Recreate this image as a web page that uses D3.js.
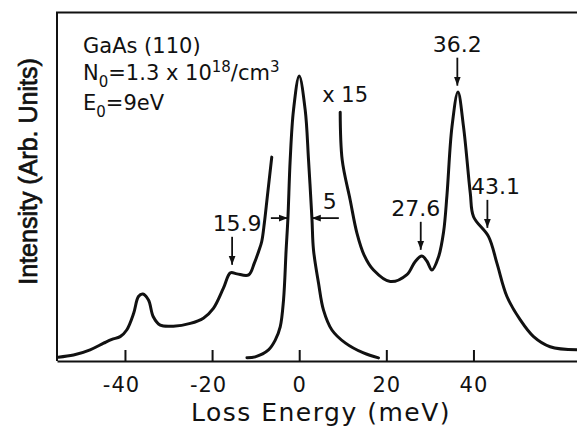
<!DOCTYPE html>
<html>
<head>
<meta charset="utf-8">
<script src="https://cdn.jsdelivr.net/npm/d3@7"></script>
<style>
body{margin:0;background:#fff;}
svg{display:block;}
text{font-family:"DejaVu Sans",sans-serif;fill:#111;}
</style>
</head>
<body>
<svg width="577" height="428"></svg>
<script>
// gain side, shown x15
const gainEnergy = [-55.3,-51.8,-48.0,-44.9,-43.0,-41.1,-39.6,-38.0,-36.9,-35.9,-34.6,-33.5,-31.9,-28.9,-25.0,-22.0,-19.7,-17.4,-15.8,-14.3,-11.6,-10.3,-9.3,-8.6,-8.0,-7.3,-6.3]
const gainIntensity = [1.1,1.7,3.2,5.1,6.2,7.0,8.9,13.7,18.5,19.2,17.5,12.7,10.3,10.0,10.8,12.3,15.1,20.9,25.3,25.0,24.7,28.1,31.5,34.3,39.6,47.4,58.5]
// elastic peak, x1
const elasticEnergy = [-12.0,-10.1,-7.05,-5.5,-4.36,-3.6,-3.0,-2.59,-2.07,-1.31,0,1.38,2.14,2.92,3.28,4.43,5.58,7.51,10.56,14.76,18.2]
const elasticIntensity = [0.95,1.2,3.2,6.0,9.8,17.5,31.9,41.0,57.7,72.0,81.8,72.0,57.7,41.0,31.9,22.4,14.6,8.9,5.2,2.3,0.9]
// loss side, x15
const lossEnergy = [9.41,9.87,11.7,13.25,14.9,17.06,20.9,24.73,26.6,28.17,29.3,30.47,31.99,33.14,33.92,35.06,36.44,37.73,39.27,40.02,43.47,45.4,47.69,50.75,53.8,57.6,63.8]
const lossIntensity = [71.4,57.7,46.2,36.7,30.4,26.1,22.8,24.8,28.5,30.1,28.7,26.1,29.9,37.0,47.6,67.1,77.2,67.1,48.2,41.4,35.7,28.0,18.5,11.8,7.0,4.1,3.2]

const tickValues = [-40,-20,0,20,40]
const tickLabels = ['-40','-20','0','20','40']
const peakLabels = ['15.9','27.6','36.2','43.1']
const peakEnergy = [-15.4,27.9,36.3,43.2]
const peakIntensity = [27.6,31.9,79.0,38.2]
const fwhmLabel = '5'
const fwhmEnergy = [-2.6,2.9]
const fwhmIntensity = 41

const svg = d3.select('svg');
const width = +svg.attr('width')
const height = +svg.attr('height')

const render = () => {
    const margin = {top:12.5,bottom:67,right:-1,left:57}
    const innerWidth = width-margin.left-margin.right;
    const innerHeight = height-margin.top-margin.bottom;

    const xScale = d3.scaleLinear()
                    .domain([-55.6,64])
                    .range([0,innerWidth]);

    const yScale = d3.scaleLinear()
                    .domain([0,100])
                    .range([innerHeight,0]);

    const g = svg.append('g')
                .attr('transform',`translate(${margin.left},${margin.top})`);

    svg.append('defs').append('marker')
        .attr('id','head')
        .attr('viewBox','0 0 10 10')
        .attr('refX',10).attr('refY',5)
        .attr('markerWidth',9).attr('markerHeight',9)
        .attr('markerUnits','userSpaceOnUse')
        .attr('orient','auto')
        .append('path').attr('d','M0,1.2L10,5L0,8.8z').attr('fill','#111');

    // frame: top and left
    g.append('path')
        .attr('d',`M${innerWidth},0H0V${innerHeight}`)
        .attr('fill','none').attr('stroke','#111').attr('stroke-width',2);

    const xAxis = g.append('g')
        .attr('transform',`translate(0,${innerHeight})`)
        .call(d3.axisBottom(xScale)
            .tickValues(tickValues)
            .tickFormat((d,i)=>tickLabels[i])
            .tickSizeInner(-11)
            .tickSizeOuter(0)
            .tickPadding(16));
    xAxis.select('.domain').attr('stroke','#111').attr('stroke-width',2);
    xAxis.selectAll('.tick line').attr('stroke','#111').attr('stroke-width',2);
    xAxis.selectAll('.tick text')
        .attr('font-family','"DejaVu Sans",sans-serif')
        .attr('font-size',21)
        .attr('fill','#111')
        .attr('dx',d=>d<0?-4:0)
        .attr('letter-spacing',1);

    const line = (xs,ys) => d3.line()
        .x((d,i)=>xScale(xs[i]))
        .y((d,i)=>yScale(ys[i]))
        .curve(d3.curveCatmullRom.alpha(0.5))(xs);

    [[gainEnergy,gainIntensity],[elasticEnergy,elasticIntensity],[lossEnergy,lossIntensity]]
        .forEach(([xs,ys]) => {
            g.append('path')
                .attr('d',line(xs,ys))
                .attr('fill','none')
                .attr('stroke','#111')
                .attr('stroke-width',3)
                .attr('stroke-linejoin','round')
                .attr('stroke-linecap','round');
        });

    // peak arrows
    const labelDx = [5,-5,0,8]
    peakLabels.forEach((lab,i) => {
        const x = xScale(peakEnergy[i]);
        const y2 = yScale(peakIntensity[i]);
        const y1 = y2-28;
        g.append('line')
            .attr('x1',x).attr('x2',x).attr('y1',y1).attr('y2',y2)
            .attr('stroke','#111').attr('stroke-width',1.8)
            .attr('marker-end','url(#head)');
        g.append('text')
            .attr('x',x+labelDx[i]).attr('y',y1-6)
            .attr('text-anchor','middle')
            .attr('font-size',22)
            .text(lab);
    });

    // FWHM arrows
    const fy = yScale(fwhmIntensity);
    const xl = xScale(fwhmEnergy[0]), xr = xScale(fwhmEnergy[1]);
    g.append('line').attr('x1',xl-17).attr('x2',xl).attr('y1',fy).attr('y2',fy)
        .attr('stroke','#111').attr('stroke-width',1.8).attr('marker-end','url(#head)');
    g.append('line').attr('x1',xr+27).attr('x2',xr).attr('y1',fy).attr('y2',fy)
        .attr('stroke','#111').attr('stroke-width',1.8).attr('marker-end','url(#head)');
    g.append('text').attr('x',xr+18).attr('y',fy-9)
        .attr('text-anchor','middle').attr('font-size',22).text(fwhmLabel);

    // x15 mark
    g.append('text')
        .attr('x',xScale(lossEnergy[0])-18)
        .attr('y',yScale(lossIntensity[0])-10)
        .attr('font-size',21)
        .text('x 15');

    // sample info
    const info = g.append('g').attr('font-size',21);
    info.append('text').attr('x',26).attr('y',40.5).text('GaAs (110)');
    const t2 = info.append('text').attr('x',26).attr('y',67.5);
    t2.append('tspan').text('N');
    t2.append('tspan').attr('dy',7).attr('font-size',15).text('0');
    t2.append('tspan').attr('dy',-7).text('=1.3 x 10');
    t2.append('tspan').attr('dy',-8).attr('font-size',15).text('18');
    t2.append('tspan').attr('dy',8).text('/cm');
    t2.append('tspan').attr('dy',-8).attr('font-size',15).text('3');
    const t3 = info.append('text').attr('x',26).attr('y',97.5);
    t3.append('tspan').text('E');
    t3.append('tspan').attr('dy',7).attr('font-size',15).text('0');
    t3.append('tspan').attr('dy',-7).text('=9eV');

    // axis titles
    svg.append('text')
        .attr('transform','translate(37,171.5) rotate(-90)')
        .attr('text-anchor','middle')
        .style('font-family','"Liberation Sans",Arial,sans-serif')
        .attr('font-size',25)
        .attr('stroke','#111')
        .attr('stroke-width',0.7)
        .text('Intensity (Arb. Units)');

    svg.append('text')
        .attr('x',321).attr('y',421)
        .attr('text-anchor','middle')
        .attr('font-size',25)
        .attr('letter-spacing',1.5)
        .text('Loss Energy (meV)');
};

render()
</script>
</body>
</html>
